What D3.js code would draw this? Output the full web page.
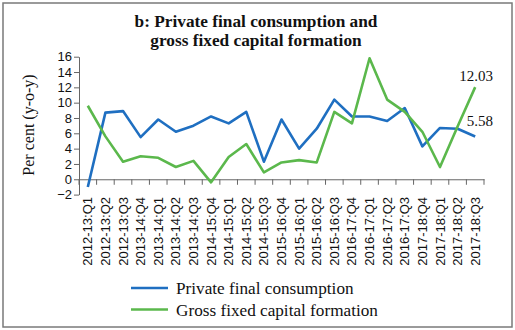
<!DOCTYPE html>
<html><head><meta charset="utf-8">
<script src="https://cdn.jsdelivr.net/npm/d3@7"></script>
<style>body{margin:0;background:#fff}svg{display:block}</style>
</head><body>
<svg id="c" width="515" height="330"></svg>
<script>
const categories = ["2012-13:Q1","2012-13:Q2","2012-13:Q3","2013-14:Q4","2013-14:Q1","2013-14:Q2","2013-14:Q3","2014-15:Q4","2014-15:Q1","2014-15:Q2","2014-15:Q3","2015-16:Q4","2015-16:Q1","2015-16:Q2","2015-16:Q3","2016-17:Q4","2016-17:Q1","2016-17:Q2","2016-17:Q3","2017-18:Q4","2017-18:Q1","2017-18:Q2","2017-18:Q3"];
const privateConsumption = [-1.0,8.7,8.9,5.5,7.8,6.2,7.0,8.2,7.3,8.8,2.3,7.8,4.0,6.6,10.4,8.2,8.2,7.6,9.3,4.3,6.7,6.6,5.58];
const grossFixedCapital = [9.6,5.6,2.3,3.0,2.8,1.6,2.4,-0.4,2.9,4.6,0.9,2.2,2.5,2.2,8.8,7.3,15.8,10.4,8.8,6.2,1.6,6.9,12.03];
const yTicks = [-2,0,2,4,6,8,10,12,14,16];
const seriesNames = ["Private final consumption","Gross fixed capital formation"];
const seriesColors = ["#1f6fc1","#5bb84c"];
const titleLines = ["b: Private final consumption and","gross fixed capital formation"];
const yTitle = "Per cent (y-o-y)";

const svg = d3.select("#c");
const serif = "'Liberation Serif','DejaVu Serif',serif";
const sans = "'Liberation Sans',Arial,sans-serif";

svg.append("rect").attr("x",3).attr("y",3).attr("width",509).attr("height",324)
  .attr("fill","#fff").attr("stroke","#7a7a7a").attr("stroke-width",1.5);

svg.selectAll("text.title").data(titleLines).join("text")
  .attr("x",256).attr("y",(d,i)=>27+i*19).attr("text-anchor","middle")
  .attr("font-family",serif).attr("font-weight","bold").attr("font-size",17.3).attr("fill","#111")
  .text(d=>d);

const x = d3.scaleBand().domain(categories).range([79,484]).padding(0);
const y = d3.scaleLinear().domain([-2,16]).range([194.6,56.7]);

// y axis
const ya = svg.append("g").attr("transform","translate(79,0)")
  .call(d3.axisLeft(y).tickValues(yTicks).tickSize(5).tickSizeOuter(0).tickFormat(d3.format("d")));
ya.select(".domain").attr("stroke","#666");
ya.selectAll(".tick line").attr("stroke","#666");
ya.selectAll(".tick text").attr("font-family",sans).attr("font-size",13).attr("fill","#111").attr("x",-7);

// x axis at y=0
const xa = svg.append("g").attr("transform",`translate(0,${y(0)})`)
  .call(d3.axisBottom(x).tickSize(0).tickSizeOuter(0));
xa.select(".domain").attr("stroke","#666");
xa.selectAll(".tick text").remove();
const bounds = d3.range(categories.length+1).map(i=>x.range()[0]+i*x.step());
xa.selectAll("line.bt").data(bounds).join("line").attr("class","bt")
  .attr("x1",d=>d).attr("x2",d=>d).attr("y1",0).attr("y2",5.5).attr("stroke","#666");

// x labels low
svg.selectAll("text.xl").data(categories).join("text")
  .attr("class","xl")
  .attr("transform",d=>`translate(${x(d)+x.bandwidth()/2},197) rotate(-90)`)
  .attr("text-anchor","end").attr("dy","0.35em")
  .attr("font-family",sans).attr("font-size",13).attr("fill","#111")
  .text(d=>d);

// y title
svg.append("text").attr("transform","translate(28,125) rotate(-90)")
  .attr("text-anchor","middle").attr("dy","0.35em")
  .attr("font-family",serif).attr("font-size",16).attr("fill","#111").text(yTitle);

const line = d3.line().x((d,i)=>x(categories[i])+x.bandwidth()/2).y(d=>y(d));
[privateConsumption,grossFixedCapital].forEach((s,k)=>{
  svg.append("path").datum(s).attr("d",line).attr("fill","none")
    .attr("stroke",seriesColors[k]).attr("stroke-width",2.6).attr("stroke-linejoin","round");
});

// end labels
const last = categories.length-1;
svg.append("text").attr("x",493).attr("y",80.5).attr("text-anchor","end")
  .attr("font-family",serif).attr("font-size",15).attr("fill","#111")
  .text(d3.format(".2f")(grossFixedCapital[last]));
svg.append("text").attr("x",493).attr("y",126).attr("text-anchor","end")
  .attr("font-family",serif).attr("font-size",15).attr("fill","#111")
  .text(d3.format(".2f")(privateConsumption[last]));

// legend
const lg = svg.selectAll("g.lg").data(seriesNames).join("g").attr("class","lg")
  .attr("transform",(d,i)=>`translate(131,${288+i*21.5})`);
lg.append("line").attr("x1",0).attr("x2",37).attr("stroke",(d,i)=>seriesColors[i]).attr("stroke-width",2.6);
lg.append("text").attr("x",45).attr("dy","0.35em").attr("font-family",serif).attr("font-size",17.2)
  .attr("fill","#111").text(d=>d);
</script>
</body></html>
